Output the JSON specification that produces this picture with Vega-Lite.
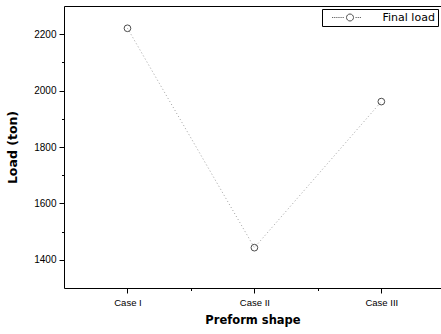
{
  "$schema": "https://vega.github.io/schema/vega-lite/v6.json",
  "autosize": "none",
  "padding": {"left": 64, "top": 6, "right": 0, "bottom": 46},
  "width": 377,
  "height": 282,
  "background": "white",
  "config": {
    "font": "Liberation Sans",
    "view": {"stroke": null},
    "axis": {"grid": false, "domainColor": "black", "tickColor": "black", "labelColor": "black", "titleColor": "black", "labelFont": "Liberation Sans", "titleFont": "DejaVu Sans"}
  },
  "data": {
    "values": [
      {"case": 1, "label": "Case I", "load": 2221, "series": "Final load"},
      {"case": 2, "label": "Case II", "load": 1443, "series": "Final load"},
      {"case": 3, "label": "Case III", "load": 1961, "series": "Final load"}
    ]
  },
  "resolve": {"axis": {"x": "independent", "y": "independent"}},
  "layer": [
    {
      "mark": {"type": "line", "color": "#888888", "strokeWidth": 0.8, "strokeDash": [1, 2.5]},
      "encoding": {
        "x": {"field": "case", "type": "quantitative", "scale": {"domain": [0.5, 3.47]},
          "axis": {"orient": "bottom", "values": [1, 2, 3], "labelExpr": "datum.value == 1 ? 'Case I' : datum.value == 2 ? 'Case II' : 'Case III'", "tickSize": 5, "labelFontSize": 9.5, "labelPadding": 4, "title": "Preform shape", "titleFontSize": 11.5, "titleFontWeight": "bold", "titlePadding": 8}},
        "y": {"field": "load", "type": "quantitative", "scale": {"domain": [1300, 2300]},
          "axis": {"orient": "left", "values": [1400, 1600, 1800, 2000, 2200], "format": "d", "tickSize": 5, "labelFontSize": 10, "labelPadding": 3, "title": "Load (ton)", "titleFontSize": 12.5, "titleFontWeight": "bold", "titlePadding": 14}}
      }
    },
    {
      "mark": {"type": "point", "shape": "circle", "filled": false, "strokeWidth": 1, "size": 45},
      "encoding": {
        "x": {"field": "case", "type": "quantitative", "scale": {"domain": [0.5, 3.47]},
          "axis": {"orient": "bottom", "values": [1.5, 2.5], "labels": false, "domain": false, "tickSize": 2.5, "title": null}},
        "y": {"field": "load", "type": "quantitative", "scale": {"domain": [1300, 2300]},
          "axis": {"orient": "left", "values": [1500, 1700, 1900, 2100], "labels": false, "domain": false, "tickSize": 2.5, "title": null}},
        "color": {"field": "series", "type": "nominal", "scale": {"range": ["black"]},
          "legend": {"title": null, "orient": "none", "legendX": 258, "legendY": 3, "strokeColor": "black", "fillColor": "white", "padding": 3,
            "labelFont": "DejaVu Sans", "labelFontSize": 11, "labelColor": "black", "labelExpr": "datum.label + ' '",
            "symbolType": "M-5.1,0h0.3M-4.5,0h0.3M-3.9,0h0.3M-3.3,0h0.3M-2.7,0h0.3M-2.1,0h0.3M1,0A1,1 0 1,1 -1,0A1,1 0 1,1 1,0M1.6,0h0.3M2.2,0h0.3M2.8,0h0.3",
            "symbolSize": 49, "symbolStrokeWidth": 1, "symbolOffset": 19.5, "labelOffset": 27,
            "encode": {"legend": {"update": {"strokeWidth": {"value": 1.3}}}}}}
      }
    },
    {
      "mark": {"type": "point", "opacity": 0},
      "encoding": {
        "x": {"field": "case", "type": "quantitative", "scale": {"domain": [0.5, 3.47]},
          "axis": {"orient": "top", "labels": false, "ticks": false, "domain": true, "title": null}},
        "y": {"field": "load", "type": "quantitative", "scale": {"domain": [1300, 2300]}, "axis": null}
      }
    }
  ]
}
